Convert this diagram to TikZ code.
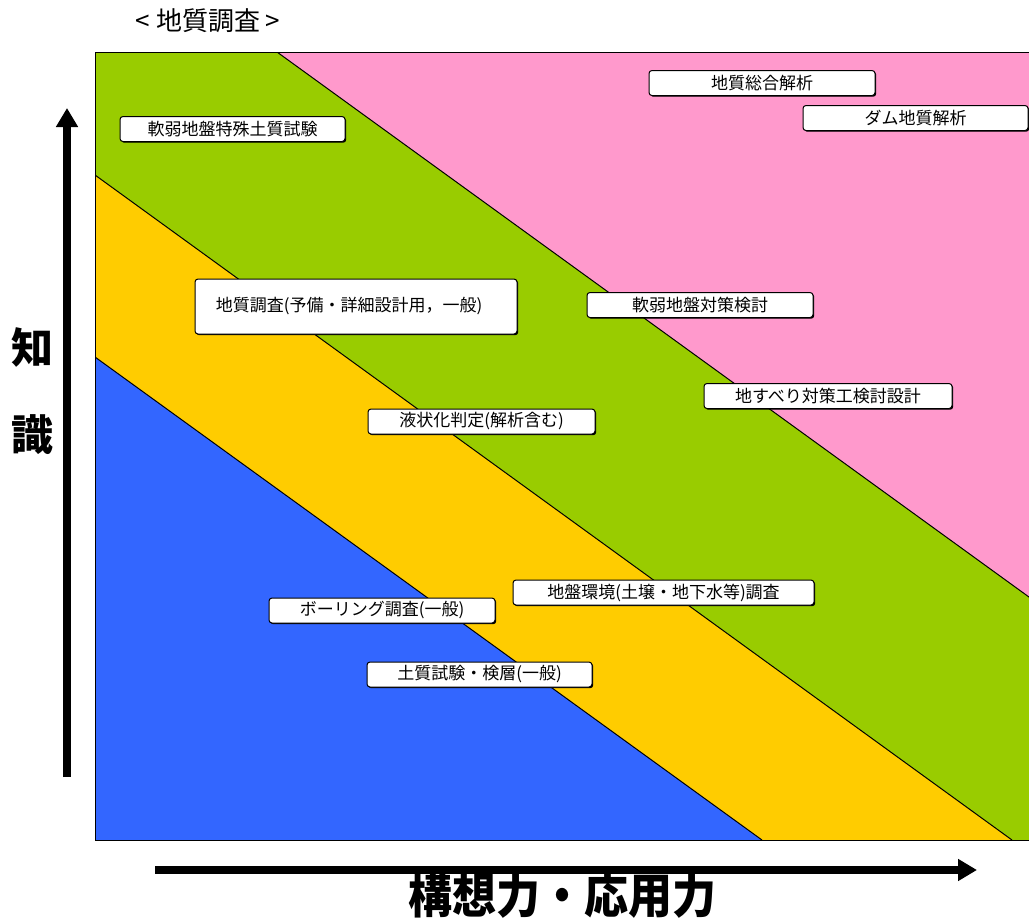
\documentclass[tikz,border=0pt]{standalone}
\usepackage{fontspec}
\setmainfont{Noto Sans CJK JP}
\usetikzlibrary{arrows.meta,shadows}
\definecolor{pinkc}{HTML}{FF99CC}
\definecolor{greenc}{HTML}{99CC00}
\definecolor{yellowc}{HTML}{FFCC00}
\definecolor{bluec}{HTML}{3366FF}
\begin{document}
\begin{tikzpicture}[x=1pt,y=-1pt,
  lbl/.style={draw=black, line width=1pt, fill=white, rounded corners=3pt,
    inner sep=0pt, minimum height=25pt, font=\fontsize{17}{17}\selectfont,
    drop shadow={shadow xshift=1.2pt,shadow yshift=-1.2pt,opacity=1,fill=black}},
  bigarrow/.style={line width=8pt, -{Triangle[width=21pt,length=19pt]}},
  divider/.style={draw=black, line width=1pt}]
\useasboundingbox (0,0) rectangle (1029,922);
% bands
\fill[pinkc] (277,52) -- (1040,52) -- (1040,605) -- cycle;
\fill[greenc] (95,52) -- (277,52) -- (1040,605) -- (1040,840) -- (1012,840) -- (95,175) -- cycle;
\fill[yellowc] (95,175) -- (1012,840) -- (762,840) -- (95,357) -- cycle;
\fill[bluec] (95,357) -- (762,840) -- (95,840) -- cycle;
\begin{scope}
\clip (95,52) rectangle (1029,840);
\draw[divider] (277,52) -- (1040,605);
\draw[divider] (95,175) -- (1012,840);
\draw[divider] (95,357) -- (762,840);
\end{scope}
\draw[line width=1pt] (1040,52) -- (95,52) -- (95,840) -- (1040,840);
% title
\node[font=\fontsize{26}{26}\selectfont] (title) at (208,21) {< 地質調査 >};
% axes
\coordinate (vb) at (67,777);
\coordinate (vt) at (67,108);
\draw[bigarrow] (vb) -- (vt);
\coordinate (hl) at (155,870);
\coordinate (hr) at (977,870);
\draw[bigarrow] (hl) -- (hr);
\node[font=\fontsize{42}{42}\selectfont\bfseries] (chi) at (33,347) {知};
\node[font=\fontsize{42}{42}\selectfont\bfseries] (shiki) at (33,435) {識};
\node[font=\fontsize{44}{44}\selectfont\bfseries, yscale=1.1] (kousou) at (562,895) {構想力・応用力};
% labels
\node[lbl, minimum width=225pt] (a) at (232.5,129) {軟弱地盤特殊土質試験};
\node[lbl, minimum width=226pt] (b) at (762,83) {地質総合解析};
\node[lbl, minimum width=225pt] (c) at (915.5,118) {ダム地質解析};
\node[lbl, minimum width=322pt, minimum height=55pt] (d) at (356,306.5) {地質調査(予備・詳細設計用，一般)\hspace*{14pt}};
\node[lbl, minimum width=227pt] (e) at (481.5,421.5) {液状化判定(解析含む)};
\node[lbl, minimum width=226pt] (f) at (700,305) {軟弱地盤対策検討};
\node[lbl, minimum width=248pt] (g) at (828,396) {地すべり対策工検討設計};
\node[lbl, minimum width=301pt] (h) at (663.5,592.5) {地盤環境(土壌・地下水等)調査};
\node[lbl, minimum width=226pt] (i) at (382,610.5) {ボーリング調査(一般)};
\node[lbl, minimum width=225pt] (j) at (479.5,674.5) {土質試験・検層(一般)};
\end{tikzpicture}
\end{document}
